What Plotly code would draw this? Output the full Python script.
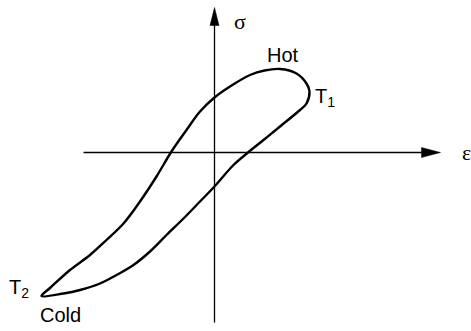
import plotly.graph_objects as go

# hysteresis loop, strain (x) vs stress (y): upper branch from T2 to T1, back down to T2
loop_eps = [-173, -164.5, -144.5, -124.5, -108, -91, -74.5, -58, -43, -28, -14.5, 0,
            15.5, 35.5, 50, 65.5, 82, 92, 95, 92, 85.5, 65.5, 49, 33.5, 19, 0, -14.5,
            -31, -48, -64.5, -81, -98, -114.5, -134.5, -151, -173]
loop_sig = [-143.5, -135.5, -117.5, -102.5, -87.5, -71, -49, -24, 1, 22.5, 41, 55,
            66, 77.5, 82, 83.5, 79, 69, 61, 49, 42.5, 26, 12.5, 0, -12.5, -34, -49,
            -66, -82.5, -99, -112.5, -122.5, -131, -137.5, -141, -143.5]

FONT = "Liberation Sans, Arial, Helvetica, sans-serif"
GREEK = "Liberation Serif, Times New Roman, serif"

fig = go.Figure()

# axes with arrow heads
fig.add_shape(type="line", x0=-131, y0=0, x1=210, y1=0,
              line=dict(color="black", width=1.3))
fig.add_shape(type="path", path="M 207 -5 L 226 0 L 207 5 Z",
              fillcolor="black", line=dict(color="black", width=0.5))
fig.add_shape(type="line", x0=0, y0=-170, x1=0, y1=130,
              line=dict(color="black", width=1.3))
fig.add_shape(type="path", path="M -4.5 127 L 0 145 L 4.5 127 Z",
              fillcolor="black", line=dict(color="black", width=0.5))

fig.add_trace(go.Scatter(x=loop_eps, y=loop_sig, mode="lines",
                         line=dict(color="black", width=2.4, shape="spline", smoothing=1.0),
                         hoverinfo="skip"))

labels = [
    ("Hot", 68, 98, FONT, 20),
    ("T<sub>1</sub>", 110, 55, FONT, 20),
    ("T<sub>2</sub>", -196, -136, FONT, 20),
    ("Cold", -154, -162, FONT, 20),
    ("σ", 25, 131, GREEK, 22),
    ("ε", 252, 0, GREEK, 22),
]
for txt, x, y, fam, size in labels:
    fig.add_annotation(x=x, y=y, text=txt, showarrow=False,
                       font=dict(family=fam, size=size, color="black"))

fig.update_xaxes(range=[-214.5, 256.5], visible=False)
fig.update_yaxes(range=[-178.5, 152.5], visible=False)
fig.update_layout(width=471, height=331, margin=dict(l=0, r=0, t=0, b=0),
                  plot_bgcolor="white", paper_bgcolor="white", showlegend=False)

fig.write_html("out.html", config={"displayModeBar": False},
               post_script="document.body.style.margin='0px';")
